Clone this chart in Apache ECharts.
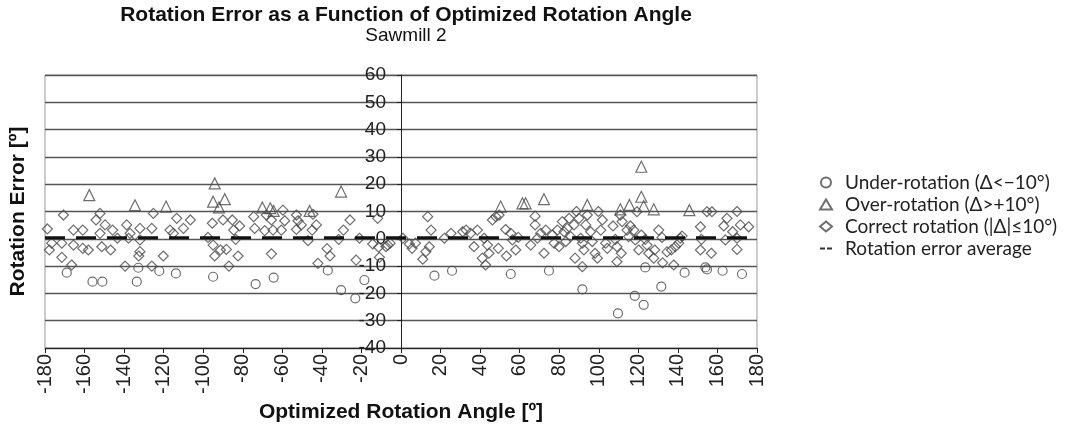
<!DOCTYPE html>
<html>
<head>
<meta charset="utf-8">
<script src="https://cdn.jsdelivr.net/npm/echarts@6/dist/echarts.min.js"></script>
<style>
  html, body { margin: 0; padding: 0; background: #fff; }
</style>
</head>
<body>
<div id="main" style="width: 1066px; height: 426px"></div>
<script>
// data: [angle, error]
const underPts = [
  [-169, -12.4], [-156, -15.7], [-151, -15.7], [-132.8, -10.6], [-133.6, -15.7],
  [-122.2, -11.8], [-113.8, -12.7], [-95, -13.9], [-73.5, -16.6], [-64.4, -14.2],
  [-37, -11.6], [-30.3, -18.8], [-23.1, -21.8], [-18.5, -15.1], [16.9, -13.5],
  [25.8, -11.7], [55.5, -12.9], [74.8, -11.7], [91.7, -18.5], [109.7, -27.3],
  [118.2, -20.9], [122.7, -24.2], [123.5, -10.5], [131.6, -17.5], [143.4, -12.4],
  [153.9, -10.5], [154.7, -11.2], [162.6, -11.7], [172.4, -12.9]
]
const overPts = [
  [-157.6, 16.0], [-134.5, 12.3], [-118.8, 11.8], [-94.2, 20.3], [-95.0, 13.6],
  [-89.1, 14.5], [-92.0, 11.5], [-70.1, 11.5], [-66.1, 11.2], [-64.4, 10.2],
  [-46.2, 10.2], [-30.3, 17.3], [50.4, 11.8], [61.4, 13.0], [63.0, 13.0],
  [72.3, 14.5], [94.2, 12.4], [110.9, 10.8], [115.5, 12.4], [121.5, 26.4],
  [121.5, 15.4], [122.7, 12.0], [127.8, 10.8], [145.8, 10.5]
]
const correctPts = [
  [-178.8, 3.6], [-176.6, -1.6], [-177.8, -4.1], [-170.7, 8.7], [-171.5, -1.6],
  [-171.5, -6.8], [-166.5, -9.6], [-165.6, 3.2], [-165.6, -2.3], [-160.9, 3.2],
  [-160.9, -3.5], [-158.1, -4.1], [-154.2, 6.9], [-152.2, 9.3], [-152.2, 2.0],
  [-151.3, -2.9], [-149.6, 5.1], [-146.8, -4.1], [-145.8, 3.2], [-143.4, 0.2],
  [-138.7, 5.1], [-137.8, 0.2], [-137, 2], [-139.5, -10], [-132, 3.8],
  [-132, -0.4], [-132, -4.7], [-132.6, -6.3], [-126, 3.8], [-125.2, 9.3],
  [-126, -10], [-120.2, -6.3], [-116.8, 3.2], [-115.1, 2], [-113.4, 7.5],
  [-110, 3.8], [-106.5, 6.9], [-95.4, 5.7], [-97.6, 0.5], [-95.0, -2.3],
  [-94.2, -6.3], [-90.0, 6.9], [-91.3, -4.1], [-88.3, -3.9], [-85.3, 6.9],
  [-84.6, 3.2], [-83.6, -0.2], [-82.4, -6.3], [-81.6, 4.7], [-87, -10],
  [-74.5, 8.1], [-74.0, 3.8], [-68.9, 3], [-68.1, 8.7], [-65.5, 6.9],
  [-64.7, 3.2], [-65.5, -5.5], [-59.7, 10.5], [-58.8, 6.6], [-60.5, 3.2],
  [-52.9, 8.7], [-52.1, 6.6], [-52.9, 3.4], [-50.4, 5.1], [-44.5, 9],
  [-44.9, 3.2], [-42.8, 5.1], [-47, -0.7], [-42, -9], [-37.4, -3.6],
  [-35.9, -6.3], [-31.5, -0.2], [-29.1, 3.2], [-25.8, 6.9], [-21, 0.2],
  [-22.7, -7.8], [-14.3, -1.9], [-11.8, 7.5], [-11.3, -3.1], [-10.9, -6.8],
  [-7.6, -2.9], [-6.7, -2.3], [-5.5, -1.6], [0.9, 0.2], [4.2, -1.9],
  [5.6, -3.5], [7.3, -1.6], [13.5, 8.1], [15.2, 3.2], [14.3, -2.9],
  [12.6, -4.7], [11, -7.5], [21.9, 0.2], [25.3, 2], [31.2, 2.6],
  [32.9, 3.2], [35.2, 2.0], [36.9, -2.9], [38.6, 3.2], [42, 0.2],
  [41.1, -7.1], [42.8, -9.6], [44.5, -5.3], [43.7, -2.3], [46.2, 6.9],
  [47.9, 8.1], [49.6, 8.7], [49.2, -3.5], [52.9, 3.4], [53.3, -6.3],
  [55.5, 2], [56.3, -0.4], [58, -4.1], [59.3, 0.5], [65.6, -2.3],
  [67.8, 8.3], [67.8, 5.1], [69, 0.2], [70.6, 2], [72.3, -5.3],
  [73.2, 3.2], [76.5, 1.4], [77.4, -1.6], [79.1, 3.2], [79.9, -2.9],
  [81.6, 6.3], [82.4, 2.6], [83.3, -1.0], [84.1, 3.8], [85, 7.5],
  [85.8, 0.8], [87.5, 5.1], [88, -7.1], [88.7, 10.0], [90, 7.5],
  [90.8, 0.2], [91.7, -1.6], [92.5, -4.1], [91.7, -10.2], [93.4, 5.1],
  [94.2, 8.7], [95.9, 2.6], [96.7, -1.0], [98.1, -5.3], [99.3, -7.1],
  [99.8, 10.0], [101, 3.2], [101.8, 6.9], [103.5, -1.6], [104.3, -3.5],
  [107.2, 4.7], [108.4, -0.2], [109.2, -2.9], [109.2, -8.4], [110.9, 8.7],
  [111.8, 6.3], [111.4, -5.3], [114.3, 3.2], [115.1, 0.8], [116, 4.7],
  [117.7, 3.2], [118.5, -0.4], [119.3, 9.9], [120.2, -4.1], [121.5, 1.4],
  [123.5, -0.2], [124.4, -2.3], [125.2, -5.3], [127.8, -7.1], [128.3, -4.1],
  [130.3, 3.2], [132, 0.5], [132.3, -8.8], [134.5, -4.8], [136.7, -4.1],
  [137.9, -9.6], [138.7, -2.9], [140.4, -1.6], [141.2, 0.2], [142.1, 1.0],
  [151.4, 4.4], [151.9, -0.2], [151.4, -4.1], [154.7, 9.9], [157.2, 9.9],
  [156.9, -5.3], [164.8, 7.5], [163.2, 4.7], [167.7, 2.6], [164, -0.4],
  [169.9, 10.0], [171.6, 5.1], [169.9, 0.2], [169.9, -3.9], [175.8, 4.4]
]
const averagePts = [[-180, 0.4], [180, 0.4]]

const seriesNames = [
  'Under-rotation (Δ<−10°)',
  'Over-rotation (Δ>+10°)',
  'Correct rotation (|Δ|≤10°)',
  'Rotation error average'
]

const markStyle = { color: 'transparent', borderColor: '#4a4a4a', borderWidth: 1.2 }

var myChart = echarts.init(document.getElementById('main'))
var option = {
  animation: false,
  title: {
    text: 'Rotation Error as a Function of Optimized Rotation Angle',
    subtext: 'Sawmill 2',
    left: 401,
    textAlign: 'center',
    top: 0,
    itemGap: 0,
    textStyle: { fontFamily: 'Liberation Sans', fontSize: 21, fontWeight: 'bold', color: '#111' },
    subtextStyle: { fontFamily: 'Liberation Sans', fontSize: 19, color: '#111' }
  },
  legend: {
    orient: 'vertical',
    left: 814,
    top: 168,
    itemWidth: 12,
    itemHeight: 10,
    itemGap: 3,
    data: [
      { name: seriesNames[0], icon: 'circle' },
      { name: seriesNames[1], icon: 'triangle' },
      { name: seriesNames[2], icon: 'diamond' },
      { name: seriesNames[3], icon: 'path://M0,0h5v2h-5zM7,0h5v2h-5z', itemStyle: { color: '#333', borderWidth: 0 } }
    ],
    textStyle: { fontFamily: 'Lato', fontSize: 19, color: '#222', padding: [0, 0, 0, 8] }
  },
  grid: {
    left: 45,
    right: 309,
    top: 75,
    bottom: 78,
    outerBoundsMode: 'none',
    containLabel: false,
    show: true,
    borderColor: '#999',
    borderWidth: 1
  },
  xAxis: {
    type: 'value',
    min: -180,
    max: 180,
    interval: 20,
    name: 'Optimized Rotation Angle [º]',
    nameLocation: 'middle',
    nameGap: 54,
    nameTextStyle: { fontFamily: 'Liberation Sans', fontSize: 21, fontWeight: 'bold', color: '#111' },
    axisLine: { onZero: false, lineStyle: { color: '#222', width: 1 } },
    axisTick: { show: true, length: 5, lineStyle: { color: '#222' } },
    axisLabel: { rotate: 90, margin: 6, fontFamily: 'Liberation Sans', fontSize: 20, color: '#222' },
    splitLine: { show: false }
  },
  yAxis: {
    type: 'value',
    min: -40,
    max: 60,
    interval: 10,
    // the axis sits at angle 0, in the middle of the plot
    offset: -356,
    name: 'Rotation Error [º]',
    nameLocation: 'middle',
    nameGap: 372,
    nameRotate: 90,
    nameTextStyle: { fontFamily: 'Liberation Sans', fontSize: 21, fontWeight: 'bold', color: '#111' },
    axisLine: { onZero: false, lineStyle: { color: '#222', width: 1 } },
    axisTick: { show: true, length: 4, lineStyle: { color: '#222' } },
    axisLabel: { margin: 15, fontFamily: 'Liberation Sans', fontSize: 19, color: '#222' },
    splitLine: { show: true, lineStyle: { color: '#555', width: 1.3 } }
  },
  series: [
    {
      name: seriesNames[0],
      type: 'scatter',
      symbol: 'circle',
      symbolSize: 9,
      itemStyle: markStyle,
      data: underPts
    },
    {
      name: seriesNames[1],
      type: 'scatter',
      symbol: 'triangle',
      symbolSize: 11,
      itemStyle: markStyle,
      data: overPts
    },
    {
      name: seriesNames[2],
      type: 'scatter',
      symbol: 'diamond',
      symbolSize: [10, 10],
      itemStyle: markStyle,
      data: correctPts
    },
    {
      name: seriesNames[3],
      type: 'line',
      symbol: 'none',
      itemStyle: { color: '#111' },
      lineStyle: { color: '#111', width: 3, type: [20, 11] },
      data: averagePts,
      z: 5
    }
  ]
}
myChart.setOption(option)
</script>
</body>
</html>
